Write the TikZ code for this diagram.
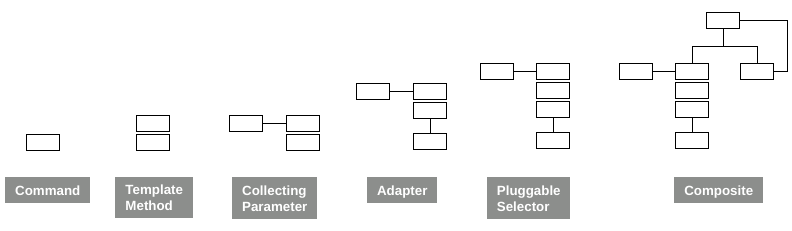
\documentclass[tikz,border=0pt]{standalone}
\usepackage{fontspec}
\setmainfont{Liberation Sans}
\definecolor{labelgray}{HTML}{8C8E8C}
\tikzset{
  box/.style={draw,line width=0.75pt,minimum width=24.75pt,minimum height=12pt,inner sep=0pt},
  patlabel/.style={fill=labelgray,text=white,anchor=north west,inner sep=0pt,align=left,
    font=\fontsize{10}{12}\selectfont\bfseries},
  oneline/.style={text height=9.5pt,text depth=2.2pt},
  link/.style={line width=0.75pt}
}
\begin{document}
\begin{tikzpicture}[x=0.75pt,y=-0.75pt]

\useasboundingbox[fill=white] (0,0) rectangle (792,231);

% Command
\node[box] (cmd) at (43,142.5) {};
\node[patlabel,oneline,minimum width=63.75pt,minimum height=19.5pt] (cmdlabel) at (5,177)
{Command};

% Template Method
\node[box] (tm1) at (153,123.5) {};
\node[box] (tm2) at (153,142.5) {};
\node[patlabel,minimum width=58.5pt,minimum height=30.75pt] (tmlabel) at (115,177)
{Template\\Method};

% Collecting Parameter
\node[box] (cpleft) at (246,123.5) {};
\node[box] (cp1) at (303,123.5) {};
\node[box] (cp2) at (303,142.5) {};
\draw[link] (cpleft) -- (cp1);
\node[patlabel,minimum width=63.75pt,minimum height=31.5pt] (cplabel) at (232,177)
{Collecting\\Parameter};

% Adapter
\node[box] (adleft) at (373,91.5) {};
\node[box] (ad1) at (430,91.5) {};
\node[box] (ad2) at (430,110.5) {};
\node[box] (ad3) at (430,141.5) {};
\draw[link] (adleft) -- (ad1);
\draw[link] (ad2) -- (ad3);
\node[patlabel,oneline,minimum width=52.5pt,minimum height=19.5pt] (adlabel) at (367,177)
{Adapter};

% Pluggable Selector
\node[box] (psleft) at (497,71.5) {};
\node[box] (ps1) at (553,71.5) {};
\node[box] (ps2) at (553,90.5) {};
\node[box] (ps3) at (553,109.5) {};
\node[box] (ps4) at (553,140.5) {};
\draw[link] (psleft) -- (ps1);
\draw[link] (ps3) -- (ps4);
\node[patlabel,minimum width=62.25pt,minimum height=31.5pt] (pslabel) at (487,177)
{Pluggable\\Selector};

% Composite
\node[box] (cotop) at (723,20.5) {};
\node[box] (coleft) at (636,71.5) {};
\node[box] (co1) at (692,71.5) {};
\node[box] (co2) at (692,90.5) {};
\node[box] (co3) at (692,109.5) {};
\node[box] (co4) at (692,140.5) {};
\node[box] (coright) at (757,71.5) {};
\coordinate (cobus) at (723,46.5);
\draw[link] (cotop) -- (cobus);
\draw[link] (co1.north) |- (cobus) -| (coright.north);
\draw[link] (cotop.east) -- ++(47,0) |- (coright.east);
\draw[link] (coleft) -- (co1);
\draw[link] (co3) -- (co4);
\node[patlabel,oneline,minimum width=66.75pt,minimum height=19.5pt] (colabel) at (674,177)
{Composite};

\end{tikzpicture}
\end{document}
